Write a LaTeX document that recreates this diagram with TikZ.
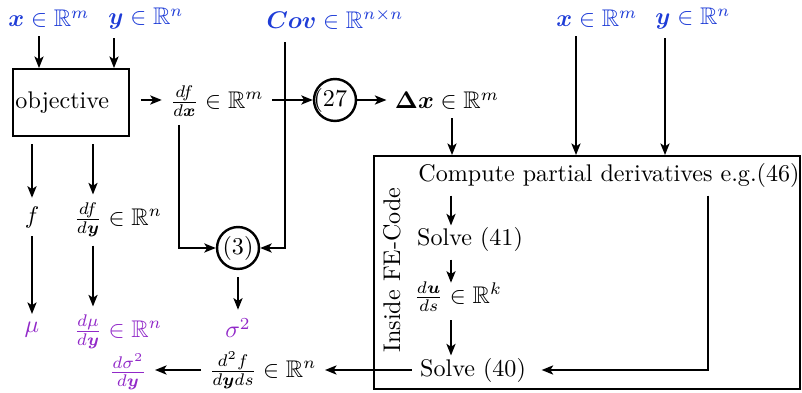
\documentclass[tikz,border=0pt]{standalone}
\usepackage{amsmath,amssymb,bm}
\usetikzlibrary{arrows.meta,calc}
\definecolor{inblue}{RGB}{30,60,215}
\definecolor{outpurple}{RGB}{145,40,200}
\begin{document}
\begin{tikzpicture}[x=0.415pt,y=-0.415pt,
  arr/.style={-{Stealth[length=4.8pt,width=3.8pt,inset=1.2pt]},line width=0.75pt},
  inp/.style={text=inblue},
  outp/.style={text=outpurple},
  circ/.style={draw,circle,line width=1pt,minimum size=17.4pt,inner sep=0pt},
  boxed/.style={draw,line width=0.8pt,inner sep=0pt}]
\useasboundingbox (0,0) rectangle (802,393);
% inputs
\node[inp] (x1) at (49,19) {$\bm{x}\in\mathbb{R}^m$};
\node[inp] (y1) at (146,19) {$\bm{y}\in\mathbb{R}^n$};
\node[inp] (cov) at (335,19) {$\bm{Cov}\in\mathbb{R}^{n\times n}$};
\node[inp] (x2) at (597,19) {$\bm{x}\in\mathbb{R}^m$};
\node[inp] (y2) at (693,19) {$\bm{y}\in\mathbb{R}^n$};
% objective
\node[boxed, minimum width=48.1pt, minimum height=27.8pt] (obj) at (71,102.5) {};
\node[anchor=west, inner sep=1.2pt] (objt) at (obj.west) {objective};
\node (dfdx) at (217,101) {$\frac{df}{d\bm{x}}\in\mathbb{R}^m$};
\node[circ] (c27) at (335,100) {};
\node[inner sep=0pt] (t27) at (c27) {(27\hphantom{)}};
\node (dx) at (447,101) {$\bm{\Delta x}\in\mathbb{R}^m$};
% left columns
\node (f) at (32,217) {$f$};
\node (dfdy) at (118,220) {$\frac{df}{d\bm{y}}\in\mathbb{R}^n$};
\node[outp] (mu) at (32,330) {$\mu$};
\node[outp] (dmudy) at (118,332) {$\frac{d\mu}{d\bm{y}}\in\mathbb{R}^n$};
\node[circ] (c3) at (238,248) {};
\node[inner sep=0pt] (t3) at (c3) {(3)};
\node[outp] (sig) at (238,328) {$\sigma^2$};
\node (d2f) at (263,370) {$\frac{d^2f}{d\bm{y}ds}\in\mathbb{R}^n$};
\node[outp] (dsig) at (128,372) {$\frac{d\sigma^2}{d\bm{y}}$};
% FE box
\node[boxed, minimum width=176.8pt, minimum height=96.7pt] (fe) at (587,272.5) {};
\node[rotate=90] (fet) at (392,270) {Inside FE-Code};
\node (comp) at (609,175) {Compute partial derivatives e.g.(46)};
\node (s41) at (470,239) {Solve (41)};
\node (duds) at (458,297) {$\frac{d\bm{u}}{ds}\in\mathbb{R}^k$};
\node (s40) at (473,370) {Solve (40)};
% column coordinates
\coordinate (kX1) at (39,0);
\coordinate (kY1) at (114,0);
\coordinate (kB) at (93,0);
\coordinate (kC) at (179,0);
\coordinate (kD) at (285,0);
\coordinate (kE) at (576,0);
\coordinate (kF) at (665,0);
\coordinate (kG) at (452,0);
\coordinate (kH) at (451,0);
\coordinate (kI) at (708,0);
% connectors
\draw[arr] (x1.south -| kX1) -- (obj.north -| kX1);
\draw[arr] (y1.south -| kY1) -- (obj.north -| kY1);
\draw[arr, shorten <=4.5pt] (obj.east |- c27.west) -- (dfdx.west |- c27.west);
\draw[arr] (dfdx.east |- c27.west) -- (c27.west);
\draw[arr] (c27.east) -- (dx.west |- c27.east);
\draw[arr] (dfdx.south -| kC) |- (c3.west);
\draw[arr, shorten <=2pt] (cov.south -| kD) |- (c3.east);
\draw[arr] (dx.south -| kG) -- (fe.north -| kG);
\draw[arr] (x2.south -| kE) -- (fe.north -| kE);
\draw[arr] (y2.south -| kF) -- (fe.north -| kF);
\draw[arr, shorten <=3pt] (obj.south -| f.north) -- (f.north);
\draw[arr, shorten <=3pt] (obj.south -| kB) -- (dfdy.north -| kB);
\draw[arr] (f.south) -- (mu.north);
\draw[arr] (dfdy.south -| kB) -- (dmudy.north -| kB);
\draw[arr, shorten <=3pt] (c3.south) -- (sig.north);
\draw[arr] (comp.south -| kH) -- ($(s41.north -| kH)+(0,7)$);
\draw[arr] (s41.south -| kH) -- ($(duds.north -| kH)+(0,9)$);
\draw[arr] (duds.south -| kH) -- ($(s40.north -| kH)+(0,6)$);
\draw[arr, shorten >=3pt] (comp.south -| kI) |- (s40.east);
\draw[arr] (s40.west) -- (d2f.east);
\draw[arr] (d2f.west) -- (dsig.east |- d2f.west);
\end{tikzpicture}
\end{document}
